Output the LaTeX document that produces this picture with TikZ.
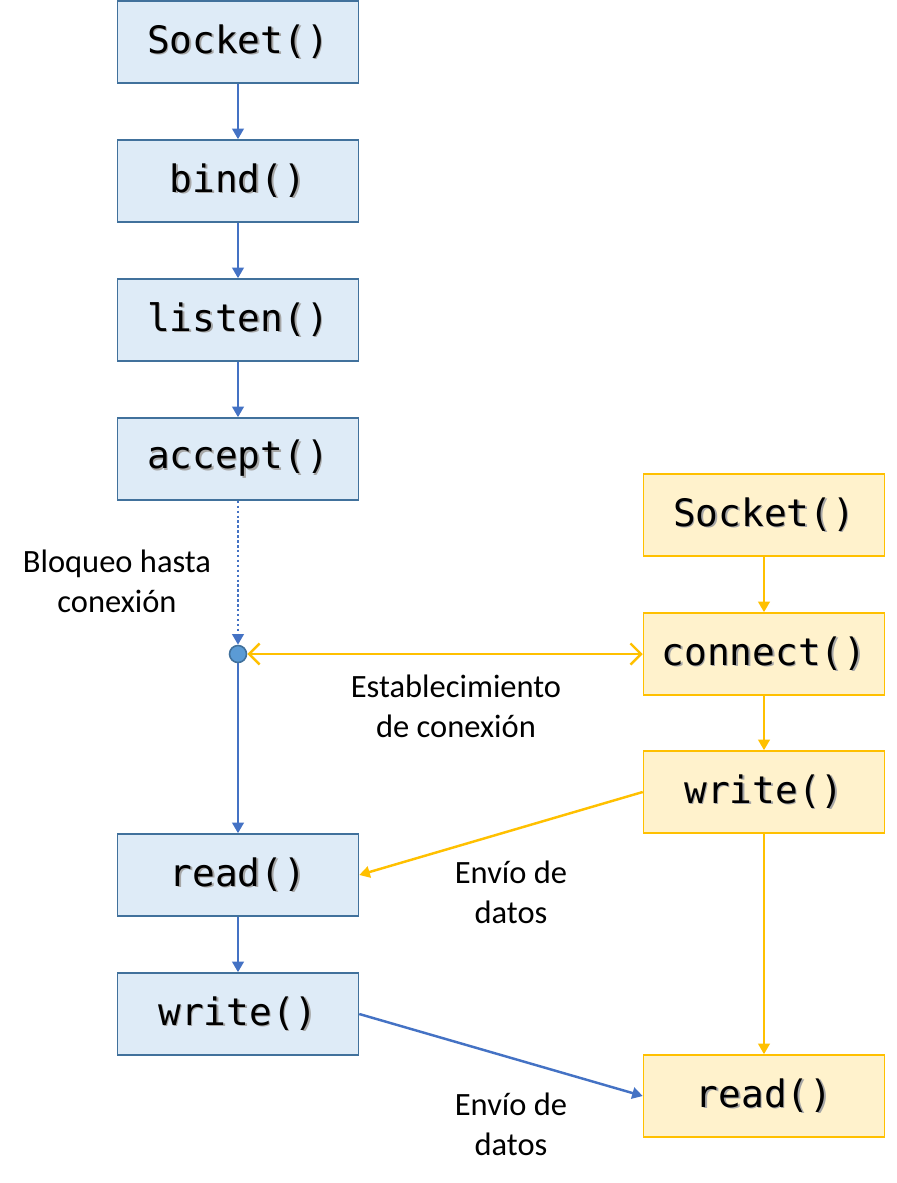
\documentclass[tikz,border=0pt]{standalone}
\usepackage{fontspec}
\setmainfont{Carlito}
\setmonofont{DejaVu Sans Mono}
\usetikzlibrary{arrows.meta}
\definecolor{srvfill}{HTML}{DEEBF7}
\definecolor{srvline}{HTML}{41719C}
\definecolor{srvarrow}{HTML}{4472C4}
\definecolor{clifill}{HTML}{FFF2CC}
\definecolor{cliline}{HTML}{FFC000}
\definecolor{dotfill}{HTML}{5B9BD5}
\newcommand{\shadowtxt}[1]{\makebox[0pt][l]{\hspace{0.9pt}\raisebox{-0.9pt}{\textcolor{black!35}{#1}}}#1}
\tikzset{srvstyle/.style={rectangle,draw=srvline,fill=srvfill,line width=0.9pt,minimum width=4.82cm,minimum height=1.64cm,font=\fontsize{21.5}{25}\selectfont\ttfamily},
  clistyle/.style={rectangle,draw=cliline,fill=clifill,line width=0.9pt,minimum width=4.82cm,minimum height=1.64cm,font=\fontsize{21.5}{25}\selectfont\ttfamily},
  srvarr/.style={draw=srvarrow,line width=1.4pt,-{Triangle[length=6pt,width=6.5pt]}},
  cliarr/.style={draw=cliline,line width=1.4pt,-{Triangle[length=6pt,width=6.5pt]}},
  notestyle/.style={align=center,font=\fontsize{18.5}{22.7}\selectfont}}

\begin{document}
\begin{tikzpicture}[x=0.02cm,y=-0.02cm]
        \useasboundingbox (0,0) rectangle (896,1183);

        % Server side
        \node[srvstyle] (sSocket) at (238,42) {\shadowtxt{Socket()}};
        \node[srvstyle] (sBind) at (238,181) {\shadowtxt{bind()}};
        \node[srvstyle] (sListen) at (238,320) {\shadowtxt{listen()}};
        \node[srvstyle] (sAccept) at (238,459) {\shadowtxt{accept()}};
        \node[circle,draw=srvline,fill=dotfill,line width=0.9pt,inner sep=0pt,minimum size=0.34cm] (sWait) at (238,654) {};
        \node[srvstyle] (sRead) at (238,875) {\shadowtxt{read()}};
        \node[srvstyle] (sWrite) at (238,1014) {\shadowtxt{write()}};

        % Client side
        \node[clistyle] (cSocket) at (764,515) {\shadowtxt{Socket()}};
        \node[clistyle] (cConnect) at (764,654) {\shadowtxt{connect()}};
        \node[clistyle] (cWrite) at (764,792) {\shadowtxt{write()}};
        \node[clistyle] (cRead) at (764,1096) {\shadowtxt{read()}};

        % Notes
        \node[notestyle] (nBlock) at (117,581) {Bloqueo hasta\\conexión};
        \node[notestyle] (nConn) at (456,706) {Establecimiento\\de conexión};
        \node[notestyle] (nSend) at (511,892) {Envío de\\datos};
        \node[notestyle] (nReply) at (511,1124) {Envío de\\datos};

        % Vertical connections
        \foreach \a/\b in {sSocket/sBind,sBind/sListen,sListen/sAccept,sRead/sWrite}
        {
               \draw[srvarr] (\a) -- (\b);
        }
        \draw[srvarr,dash pattern=on 1.4pt off 1.4pt] (sAccept) -- (sWait);
        \draw[srvarr] (sWait) -- (sRead);
        \foreach \a/\b in {cSocket/cConnect,cConnect/cWrite,cWrite/cRead}
        {
               \draw[cliarr] (\a) -- (\b);
        }

        % Cross connections
        \draw[draw=cliline,line width=1.4pt,{Straight Barb[length=6pt,width=12pt]}-{Straight Barb[length=6pt,width=12pt]}] (sWait) -- (cConnect);
        \draw[cliarr] (cWrite.west) -- (sRead.east);
        \draw[srvarr] (sWrite.east) -- (cRead.west);
\end{tikzpicture}
\end{document}
